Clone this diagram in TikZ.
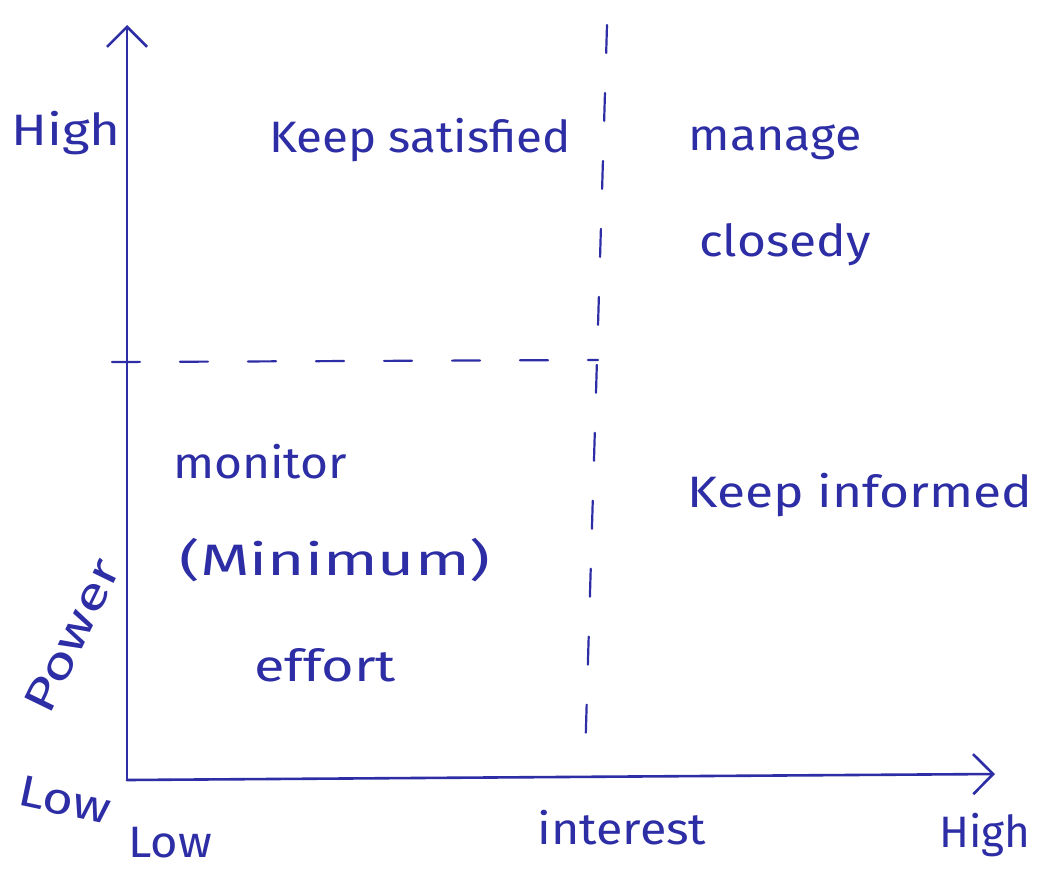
\documentclass[tikz,border=0pt]{standalone}
\usepackage{fontspec}
\setmainfont{Fira Sans}
\usetikzlibrary{arrows.meta}
\definecolor{ink}{RGB}{45,45,165}
\newcommand\hx[2]{\scalebox{#1}[1]{#2}}
\begin{document}
\begin{tikzpicture}[x=1pt,y=-1pt,
  ink/.style={draw=ink,line width=2.6pt,line cap=round},
  axis/.style={ink,-{Straight Barb[length=20pt,width=40pt,line width=2.6pt]}},
  grid/.style={ink,line width=2.2pt,dash pattern=on 28pt off 40pt},
  lbl/.style={text=ink,font=\fontsize{44}{50}\selectfont,inner sep=0pt}]
\fill[white] (0,0) rectangle (1038,881);
\useasboundingbox (0,0) rectangle (1038,881);
% axes
\coordinate (O) at (127,780);
\coordinate (Ytop) at (127,25);
\coordinate (Xend) at (995,774);
\draw[axis] (O) -- (Ytop);
\draw[axis] (O) -- (Xend);
% dashed dividers
\coordinate (Vt) at (607,25);
\coordinate (Vb) at (585,760);
\coordinate (Hl) at (112,362);
\coordinate (Hr) at (598,360);
\draw[grid] (Vt) -- (Vb);
\draw[grid] (Hl) -- (Hr);
% labels
\node[lbl] (hy) at (66,133) {\hx{1.2}{High}};
\node[lbl] (ks) at (420,140) {\hx{1.08}{Keep satisfied}};
\node[lbl] (mg) at (775,142) {\hx{1.1}{manage}};
\node[lbl] (cl) at (785,245) {\hx{1.13}{closedy}};
\node[lbl] (mo) at (260,462) {\hx{1.09}{monitor}};
\node[lbl] (mi) at (335,560) {\hx{1.45}{(Minimum)}};
\node[lbl] (ef) at (325,665) {\hx{1.27}{effort}};
\node[lbl] (ki) at (860,495) {\hx{1.17}{Keep informed}};
\node[lbl,rotate=64] (pw) at (72,636) {\hx{1.35}{Power}};
\node[lbl,rotate=-12] (ll) at (65,800) {\hx{1.2}{Low}};
\node[lbl] (lx) at (170,843) {\hx{1.07}{Low}};
\node[lbl] (it) at (622,828) {\hx{1.1}{interest}};
\node[lbl] (hx) at (985,835) {High};
\end{tikzpicture}
\end{document}
